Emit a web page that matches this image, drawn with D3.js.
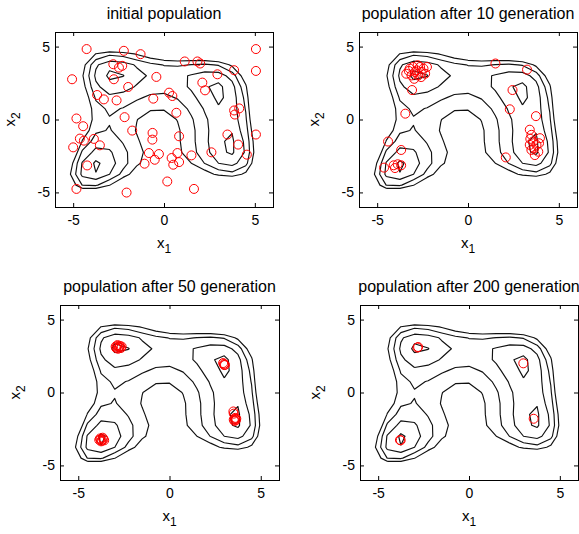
<!DOCTYPE html>
<html>
<head>
<meta charset="utf-8">
<script src="https://cdn.jsdelivr.net/npm/d3@7"></script>
<style>
  html, body { margin: 0; padding: 0; background: #ffffff; }
  svg { display: block; }
  text { font-family: "Liberation Sans", Arial, sans-serif; fill: #000; }
</style>
</head>
<body>
<svg id="chart" width="579" height="534"></svg>
<script>
// ---------------- data ----------------
const titles = ["initial population", "population after 10 generation",
                "population after 50 generation", "population after 200 generation"];
const tickValues = [-5, 0, 5];
const axisDomain = [-6, 6];
const contourLevels = [10, 50, 100, 150];
const gridCount = 17;          // contour grid: linspace(-6, 6, 17)
const gridRange = [-6, 6];

const pop0 = [
  [-4.26,4.83],[-2.21,4.71],[-1.29,4.48],[5.06,4.83],[5.06,3.33],[-5.06,2.76],
  [-2.79,3.79],[-2.48,3.56],[-2.30,3.68],[-2.76,2.76],[-0.42,2.92],[1.14,3.98],
  [1.84,3.98],[1.99,3.84],[3.86,3.38],[2.94,3.10],[2.11,2.53],[2.26,2.00],
  [-1.97,2.23],[-3.68,1.68],[-3.31,1.38],[-2.61,1.31],[-0.59,1.43],[0.28,1.84],
  [0.46,1.61],[-4.82,0.07],[-4.45,-0.46],[-2.17,0.16],[0.68,0.46],[3.86,0.62],
  [4.14,0.76],[3.90,0.34],[5.06,-1.03],[-1.75,-0.76],[-0.63,-0.92],[-0.64,-1.38],
  [0.83,-1.15],[3.49,-1.03],[4.08,-1.72],[4.56,-2.41],[2.61,-2.25],[1.51,-2.46],
  [-4.63,-1.31],[-4.41,-1.45],[-3.86,-1.33],[-3.53,-1.77],[-5.00,-1.91],[-4.23,-3.15],
  [-1.07,-3.03],[-0.83,-2.30],[-0.28,-2.37],[-0.51,-2.76],[0.42,-2.64],[0.74,-2.30],
  [0.51,-3.10],[0.83,-2.92],[0.18,-4.25],[-2.06,-5.01],[1.65,-4.76],[-4.82,-4.76]
];
const pop10 = [
  [-3.40,3.14],[-3.21,3.49],[-3.02,3.60],[-2.83,3.37],[-2.64,3.60],[-2.45,3.49],
  [-2.26,3.60],[-3.11,3.02],[-2.92,3.26],[-2.74,3.02],[-2.55,3.26],[-2.36,3.14],
  [-3.26,3.33],[-2.77,3.72],[-2.58,2.91],[-2.96,2.79],
  [-3.08,2.02],[-3.45,0.40],[-4.40,-1.51],[-3.68,-2.09],
  [-4.62,-3.30],[-4.09,-3.14],[-3.87,-3.07],[-3.68,-3.14],[-4.02,-3.33],
  [1.51,3.84],[3.25,3.42],[2.45,2.02],[2.30,0.70],[3.74,0.23],[2.08,-2.60],
  [3.40,-0.70],[3.49,-1.05],[3.96,-1.28],[3.58,-1.51],[3.77,-1.74],[3.49,-2.09],
  [3.87,-2.21],[3.68,-2.44],[3.40,-1.74],[3.64,-1.98],[3.91,-1.63],[3.43,-1.33]
];
const pop50 = [
  [-2.95,3.15],[-2.85,3.25],[-2.72,3.20],[-2.66,3.05],[-2.82,3.00],[-2.92,3.05],
  [-2.76,3.12],[-2.62,3.15],[-2.86,3.18],[-2.74,3.08],
  [-3.80,-3.15],[-3.70,-3.30],[-3.62,-3.20],[-3.75,-3.35],[-3.85,-3.25],[-3.66,-3.10],
  [-3.78,-3.22],[-3.58,-3.28],
  [2.98,1.96],[3.04,1.90],[2.94,2.02],[3.00,1.88],
  [3.58,-1.82],[3.64,-1.90],[3.52,-1.86],[3.60,-1.74],[3.56,-1.95],[3.66,-1.80],
  [3.50,-1.30],[3.52,-1.45]
];
const pop200 = [
  [-2.84,3.08],[-2.80,3.12],[-3.80,-3.26],[-3.76,-3.28],[2.99,2.00],[3.56,-1.80]
];
const populations = [pop0, pop10, pop50, pop200];

// ---------------- layout ----------------
const panels = [
  {x: 55,  y: 32,  w: 218, h: 175},
  {x: 359, y: 32,  w: 218, h: 175},
  {x: 60,  y: 305, w: 219, h: 175},
  {x: 360, y: 305, w: 218, h: 175}
];

// objective surface (Himmelblau) sampled on a coarse grid for the contour plot
function objective(x, y) {
  return Math.pow(x * x + y - 11, 2) + Math.pow(x + y * y - 7, 2);
}
const gx = d3.range(gridCount).map(i => gridRange[0] + i * (gridRange[1] - gridRange[0]) / (gridCount - 1));
const gy = gx.slice();
const Z = gy.map(y => gx.map(x => objective(x, y)));

// marching squares -> polylines
function contourLines(level) {
  const nx = gx.length, ny = gy.length;
  const pts = new Map();
  const adj = new Map();
  function cross(key, x1, y1, v1, x2, y2, v2) {
    if (!pts.has(key)) {
      const t = (level - v1) / (v2 - v1);
      pts.set(key, [x1 + t * (x2 - x1), y1 + t * (y2 - y1)]);
    }
    return key;
  }
  function link(a, b) {
    if (!adj.has(a)) adj.set(a, []);
    if (!adj.has(b)) adj.set(b, []);
    adj.get(a).push(b); adj.get(b).push(a);
  }
  for (let j = 0; j < ny - 1; j++) {
    for (let i = 0; i < nx - 1; i++) {
      const v00 = Z[j][i], v10 = Z[j][i + 1], v11 = Z[j + 1][i + 1], v01 = Z[j + 1][i];
      const s00 = v00 < level, s10 = v10 < level, s11 = v11 < level, s01 = v01 < level;
      const e = {};
      if (s00 !== s10) e.b = cross("h" + i + "_" + j, gx[i], gy[j], v00, gx[i + 1], gy[j], v10);
      if (s10 !== s11) e.r = cross("v" + (i + 1) + "_" + j, gx[i + 1], gy[j], v10, gx[i + 1], gy[j + 1], v11);
      if (s01 !== s11) e.t = cross("h" + i + "_" + (j + 1), gx[i], gy[j + 1], v01, gx[i + 1], gy[j + 1], v11);
      if (s00 !== s01) e.l = cross("v" + i + "_" + j, gx[i], gy[j], v00, gx[i], gy[j + 1], v01);
      const keys = Object.keys(e);
      if (keys.length === 2) {
        link(e[keys[0]], e[keys[1]]);
      } else if (keys.length === 4) {
        const c = (v00 + v10 + v11 + v01) / 4 < level;
        if (c === s00) { link(e.b, e.r); link(e.t, e.l); }
        else { link(e.b, e.l); link(e.t, e.r); }
      }
    }
  }
  const used = new Set();
  const lines = [];
  function walk(start) {
    const chain = [start];
    used.add(start);
    let prev = null, cur = start;
    while (true) {
      const nb = adj.get(cur).filter(k => k !== prev && !used.has(k));
      if (!nb.length) {
        if (chain.length > 2 && adj.get(cur).includes(start)) chain.push(start);
        break;
      }
      prev = cur; cur = nb[0];
      used.add(cur); chain.push(cur);
    }
    return chain.map(k => pts.get(k));
  }
  for (const [k, v] of adj) if (v.length === 1 && !used.has(k)) lines.push(walk(k));
  for (const [k] of adj) if (!used.has(k)) lines.push(walk(k));
  return lines;
}
const contourSets = contourLevels.map(l => contourLines(l));

// ---------------- drawing ----------------
const svg = d3.select("#chart");
const fmt = d => String(d);

panels.forEach((p, idx) => {
  const g = svg.append("g").attr("transform", `translate(${p.x},${p.y})`);
  const x = d3.scaleLinear().domain(axisDomain).range([0, p.w]);
  const y = d3.scaleLinear().domain(axisDomain).range([p.h, 0]);

  const line = d3.line().x(d => x(d[0])).y(d => y(d[1]));
  const cg = g.append("g");
  contourSets.forEach(set => {
    set.forEach(pl => {
      cg.append("path").attr("d", line(pl))
        .attr("fill", "none").attr("stroke", "#111").attr("stroke-width", 1.15)
        .attr("stroke-linejoin", "round");
    });
  });

  g.append("g").selectAll("circle").data(populations[idx]).join("circle")
    .attr("cx", d => x(d[0])).attr("cy", d => y(d[1])).attr("r", 4.5)
    .attr("fill", "none").attr("stroke", "#ff0000").attr("stroke-width", 1);

  const styleAxis = sel => {
    sel.select(".domain").remove();
    sel.selectAll("line").attr("stroke", "#000");
    sel.selectAll("text").style("font-size", "14px").attr("fill", "#000")
      .style("font-family", '"Liberation Sans", Arial, sans-serif');
  };
  g.append("g").attr("transform", `translate(0,${p.h})`)
    .call(d3.axisBottom(x).tickValues(tickValues).tickFormat(fmt).tickSizeInner(-4).tickSizeOuter(0).tickPadding(8))
    .call(styleAxis);
  g.append("g")
    .call(d3.axisTop(x).tickValues(tickValues).tickFormat("").tickSizeInner(-4).tickSizeOuter(0))
    .call(styleAxis);
  g.append("g")
    .call(d3.axisLeft(y).tickValues(tickValues).tickFormat(fmt).tickSizeInner(-4).tickSizeOuter(0).tickPadding(5))
    .call(styleAxis);
  g.append("g").attr("transform", `translate(${p.w},0)`)
    .call(d3.axisRight(y).tickValues(tickValues).tickFormat("").tickSizeInner(-4).tickSizeOuter(0))
    .call(styleAxis);
  g.append("rect").attr("x", 0).attr("y", 0).attr("width", p.w).attr("height", p.h)
    .attr("fill", "none").attr("stroke", "#000").attr("stroke-width", 1).attr("shape-rendering", "crispEdges");

  g.append("text").attr("x", p.w / 2).attr("y", -13).attr("text-anchor", "middle")
    .style("font-size", "16px").text(titles[idx]);

  const xl = g.append("text").attr("x", p.w / 2).attr("y", p.h + 41).attr("text-anchor", "middle")
    .style("font-size", "15px");
  xl.append("tspan").text("x");
  xl.append("tspan").attr("dy", 5).style("font-size", "12px").text("1");

  const yl = g.append("text").attr("transform", `translate(-40,${p.h / 2}) rotate(-90)`)
    .attr("text-anchor", "middle").style("font-size", "15px");
  yl.append("tspan").text("x");
  yl.append("tspan").attr("dy", 5).style("font-size", "12px").text("2");
});
</script>
</body>
</html>
